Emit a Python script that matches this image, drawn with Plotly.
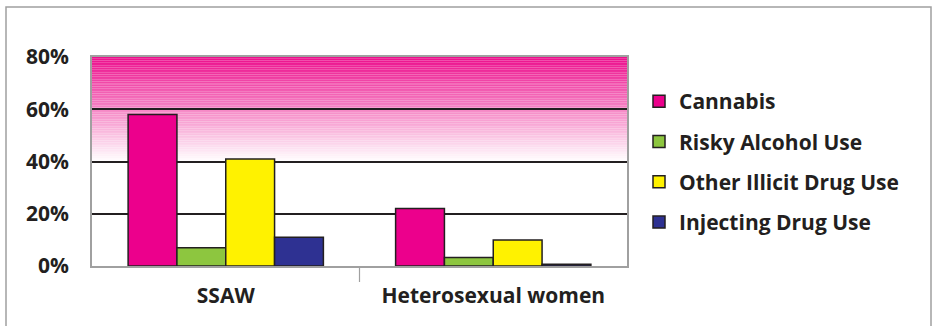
import plotly.graph_objects as go

categories = ["SSAW", "Heterosexual women"]
series_names = ["Cannabis", "Risky Alcohol Use", "Other Illicit Drug Use", "Injecting Drug Use"]
cannabis = [58, 22]
risky_alcohol = [7, 3.3]
other_illicit = [41, 10]
injecting = [11, 0.7]
series_values = [cannabis, risky_alcohol, other_illicit, injecting]
series_colors = ["#EC008C", "#8DC63F", "#FFF200", "#2E3192"]
y_ticks = [0, 20, 40, 60, 80]
y_tick_labels = ["0%", "20%", "40%", "60%", "80%"]

W, H = 932, 326
L, R, T, B = 92, 627, 57, 266  # plot area pixel bounds
FONT = "Open Sans"
FS = 21
TXT = "#231F20"

fig = go.Figure()
for i, (name, vals, col) in enumerate(zip(series_names, series_values, series_colors)):
    fig.add_trace(go.Bar(
        x=categories, y=vals, name=name, legendgroup=f"g{i}",
        marker=dict(color=col, line=dict(color=TXT, width=1.5)),
    ))

def px2paper_x(px):
    return (px - L) / (R - L)

def px2paper_y(py):
    return (B - py) / (B - T)

# gradient background (40% -> 80%)
shapes = []
top = (236, 14, 140)
n = 60
for k in range(n):
    y0 = 40 + 40 * k / n
    y1 = 40 + 40 * (k + 1) / n
    t = (k + 0.5) / n
    c = tuple(round(255 + (tc - 255) * t) for tc in top)
    shapes.append(dict(type="rect", xref="x domain", yref="y", x0=0, x1=1, y0=y0, y1=y1,
                       fillcolor=f"rgb{c}", line=dict(width=0), layer="below"))

# category divider tick
shapes.append(dict(type="line", xref="x domain", yref="paper", x0=0.5, x1=0.5,
                   y0=0, y1=px2paper_y(282), line=dict(color="#A0A0A0", width=1.2), layer="above"))

# outer frame
shapes.append(dict(type="rect", xref="paper", yref="paper",
                   x0=px2paper_x(6), x1=px2paper_x(931), y0=px2paper_y(340), y1=px2paper_y(7),
                   line=dict(color="#A0A0A0", width=1.5), fillcolor="rgba(0,0,0,0)", layer="above"))

fig.update_layout(
    width=W, height=H,
    margin=dict(l=L, r=W - R, t=T, b=H - B, pad=0, autoexpand=False),
    paper_bgcolor="white", plot_bgcolor="white",
    barmode="group", bargap=0.27, bargroupgap=0,
    shapes=shapes,
    showlegend=True,
    legend=dict(x=px2paper_x(639), y=px2paper_y(81), xanchor="left", yanchor="top",
                font=dict(family=FONT, size=FS, color=TXT, weight=700),
                tracegroupgap=10, bgcolor="rgba(0,0,0,0)", traceorder="grouped"),
    font=dict(family=FONT, color=TXT),
)
fig.update_yaxes(range=[0, 80], tickvals=y_ticks, ticktext=y_tick_labels, automargin=False,
                 showgrid=True, gridcolor="#231F20", gridwidth=1.5, zeroline=False,
                 showline=True, linecolor="#A0A0A0", linewidth=1.5, mirror=True,
                 ticks="", ticklabelstandoff=17,
                 tickfont=dict(family=FONT, size=FS, color=TXT, weight=700))
fig.update_xaxes(ticks="", ticklabelstandoff=10, automargin=False,
                 showline=True, linecolor="#A0A0A0", linewidth=1.5, mirror=True,
                 tickfont=dict(family=FONT, size=FS, color=TXT, weight=700))

fig.write_html("out.html")
